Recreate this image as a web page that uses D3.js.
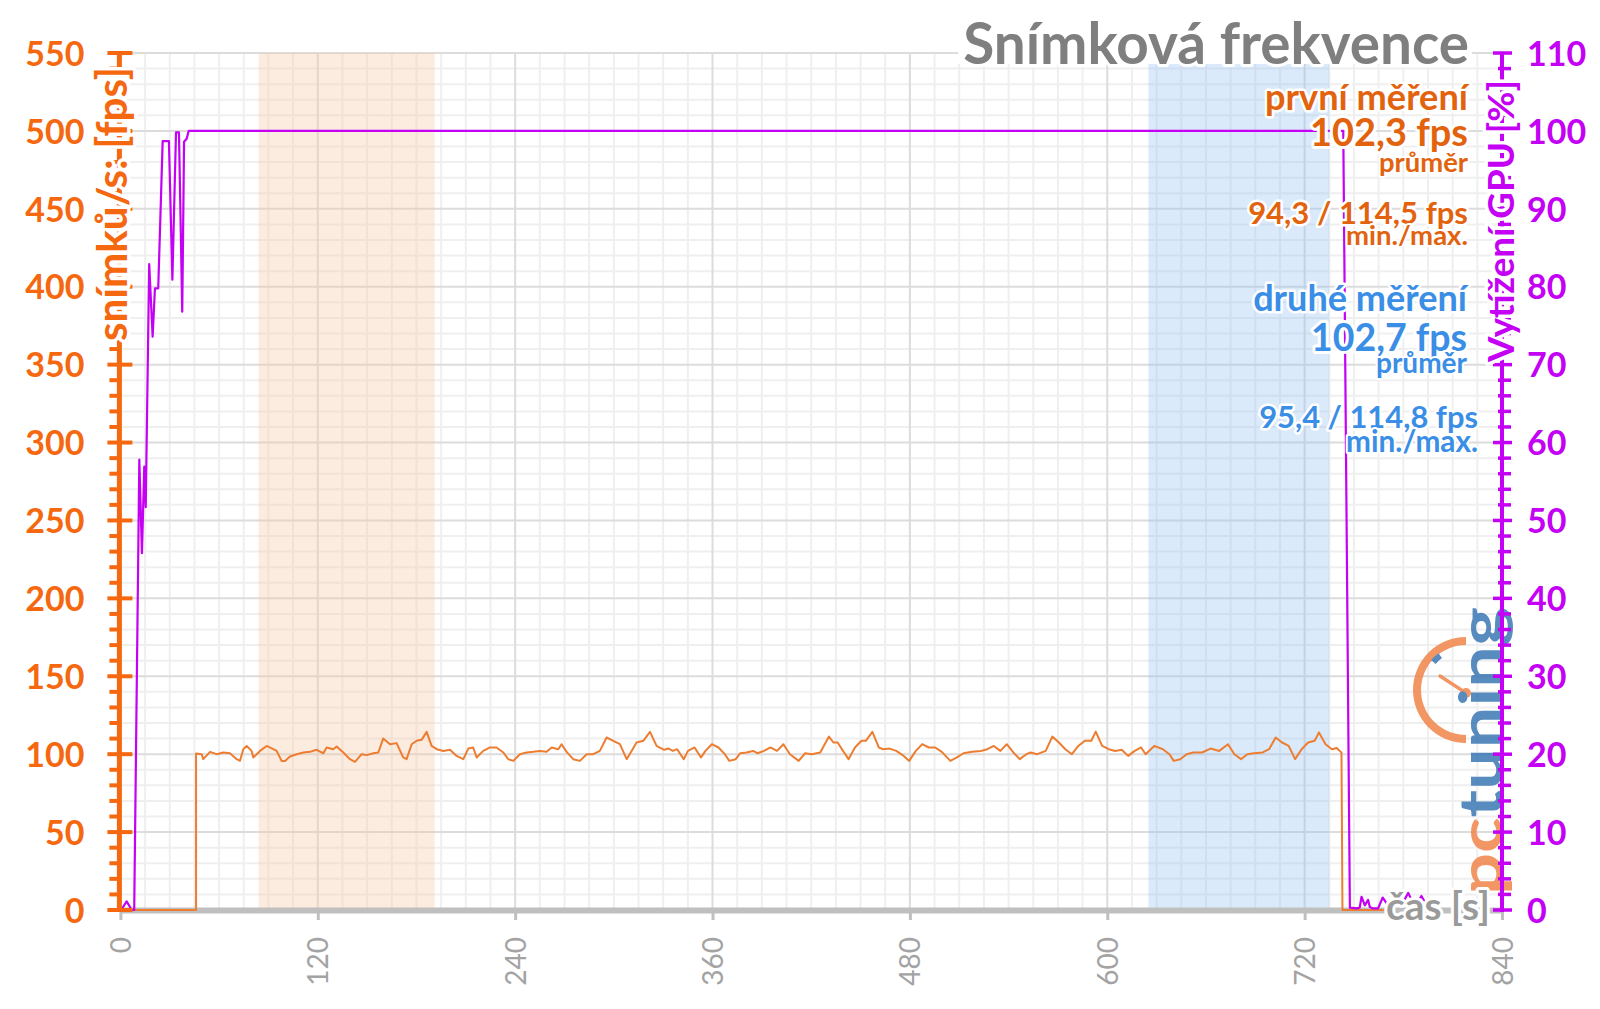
<!DOCTYPE html>
<html>
<head>
<meta charset="utf-8">
<script src="https://cdnjs.cloudflare.com/ajax/libs/d3/7.8.5/d3.min.js"></script>
<style>
  body { margin: 0; background: #fff; }
  svg { display: block; }
</style>
</head>
<body>
<script>
// ---- data ----
const fpsTime = [0, 46, 46, 49.4, 50.4, 54.5, 58.5, 62.6, 66.6, 70.7, 72.7, 74.7, 76.8, 79.8, 80.8, 84.9, 88.9, 93, 95, 98, 100.1, 103.1, 107.2, 111.2, 115.3, 119.3, 123.4, 125.4, 129.4, 131.5, 135.5, 139.6, 142.6, 146.7, 149.7, 153.8, 156.8, 159.8, 163.9, 167.9, 172, 174, 177.1, 180.1, 183.1, 186.2, 189.2, 192.3, 196.3, 200.4, 204.4, 208.5, 211.5, 214.5, 216.6, 220.6, 224.7, 228.7, 232.8, 235.8, 238.9, 242.9, 247, 251, 255.1, 259.1, 262.2, 266.2, 268.2, 271.3, 275.3, 279.4, 283.5, 287.5, 291.5, 295.6, 299.7, 303.7, 307.8, 310.8, 313.8, 317.9, 322, 326, 330.6, 333.3, 335.9, 338.5, 342.5, 345.1, 349.1, 353, 355.7, 359.6, 363.6, 367.5, 370.2, 374.1, 376.8, 380.7, 384.7, 387.3, 391.3, 395.2, 399.2, 403.1, 407.1, 412.4, 416.3, 420.3, 425.5, 430.8, 433.5, 436.1, 438.7, 442.7, 446.6, 450.6, 453.2, 457.2, 461.1, 463.8, 467.7, 471.7, 475.6, 479.6, 483.6, 487.5, 491.5, 495.4, 499.4, 504.6, 508.6, 512.6, 517.8, 523.1, 527.1, 531, 535, 538.9, 542.9, 546.8, 550.8, 553.4, 557.4, 562.6, 566.6, 570.6, 574.5, 578.5, 582.4, 586.4, 590.3, 593, 596.9, 600.9, 604.8, 608.8, 612.7, 616.7, 620.6, 623.3, 628.6, 633.8, 637.8, 640.4, 644.4, 648.3, 652.3, 657.6, 662.8, 668.1, 673.4, 677.3, 681.3, 685.2, 689.2, 694.5, 698.4, 702.4, 706.3, 710.3, 714.2, 718.2, 722.1, 726.1, 728.7, 732.7, 736.6, 739.5, 742.4, 743, 770];
const fpsValue = [0, 0, 100.5, 100, 96.8, 101.5, 100, 101.1, 100.6, 96.8, 95.7, 103.2, 105.3, 102.1, 97.9, 102.1, 105.3, 103.2, 102.1, 95.7, 95.7, 98.5, 100, 101.1, 101.5, 102.8, 100.6, 104.3, 103.2, 104.9, 101.1, 96.8, 95.1, 100, 99.4, 100.6, 101.1, 110.1, 106.4, 107.1, 97.9, 96.8, 106.4, 108.6, 109.2, 114.3, 105.3, 103.2, 102.1, 102.8, 98.9, 96.8, 103.6, 104.3, 97.9, 102.1, 104.3, 104.3, 101.1, 96.8, 95.7, 100, 101.1, 101.5, 102.1, 101.5, 104.3, 103.2, 106.4, 101.5, 96.8, 95.7, 100, 100, 102.1, 110.7, 108.6, 106.4, 96.8, 102.1, 107.5, 108.6, 114.3, 105.3, 102.8, 103.6, 102.1, 103.2, 96.8, 102.1, 104.3, 97.9, 102.1, 106.4, 104.3, 100, 95.7, 96.8, 100.6, 101.1, 102.1, 100.6, 102.1, 104.3, 102.1, 106.4, 100, 95.7, 100.6, 100, 101.1, 111.3, 107.5, 107.5, 103.2, 96.8, 104.3, 108.6, 108.6, 114.3, 104.3, 103.2, 103.6, 102.1, 99.4, 95.7, 102.1, 106.4, 104.3, 104.3, 101.5, 95.7, 97.9, 100.6, 101.5, 102.1, 103.2, 105.3, 102.1, 106.4, 101.1, 96.8, 100, 101.1, 100, 102.1, 111.3, 107.5, 103.2, 100, 105.3, 108.6, 108.6, 114.5, 105.3, 103.2, 102.1, 102.8, 98.9, 102.1, 104.3, 100, 105.3, 103.2, 100, 95.7, 96.8, 100, 101.1, 101.1, 103.6, 102.1, 106.4, 100, 96.8, 100, 100.6, 101.1, 103.2, 110.7, 107.5, 105.3, 96.8, 103.2, 107.5, 108.6, 114, 106.4, 103.2, 104, 101, 0, 0];

const gpuTime = [0, 0.5, 3.8, 6.9, 8.4, 11.5, 13.1, 14.5, 15.4, 17.5, 19.6, 21, 23, 25.7, 29.5, 31.6, 33.8, 35.6, 37.6, 38.7, 40.3, 41.5, 743.5, 747.5, 751.5, 753.5, 754.6, 756.6, 758.6, 759.6, 761.6, 764.6, 767.5, 771, 775, 779, 783, 787, 791, 795, 799];
const gpuLoad = [0, 0, 1.1, 0, 0, 57.8, 45.8, 56.9, 51.7, 82.9, 73.6, 79.8, 79.8, 98.7, 98.7, 80.9, 99.8, 99.8, 76.8, 98.6, 99, 100, 100, 0.3, 0.2, 0.3, 1.7, 0.6, 1.3, 0.4, 0.2, 0.2, 1.6, 0.5, 2.0, 0.6, 2.2, 0.4, 1.8, 0.3, 0];

const firstRun = [84, 191];
const secondRun = [625, 735];

const xTicks = [0, 120, 240, 360, 480, 600, 720, 840];
const fpsTicks = [0, 50, 100, 150, 200, 250, 300, 350, 400, 450, 500, 550];
const gpuTicks = [0, 10, 20, 30, 40, 50, 60, 70, 80, 90, 100, 110];

const title = "Snímková frekvence";
const firstRunText = ["první měření", "102,3 fps", "průměr", "94,3 / 114,5 fps", "min./max."];
const secondRunText = ["druhé měření", "102,7 fps", "průměr", "95,4 / 114,8 fps", "min./max."];
const yTitle = "snímků/s: [fps]";
const y2Title = "Vytížení GPU [%]";
const xTitle = "čas [s]";

// ---- drawing ----
const FONT = "Lato, 'Open Sans', sans-serif";
const ORANGE = "#f5680f";
const ORANGE_TXT = "#e2620e";
const BLUE_TXT = "#3a8ee6";
const PURPLE = "#c400f5";
const LINE_ORANGE = "#ed7d31";

const w = 1600, h = 1009;
const x = d3.scaleLinear().domain([0, 840]).range([120.4, 1502]);
const y = d3.scaleLinear().domain([0, 550]).range([910, 53]);
const y2 = d3.scaleLinear().domain([0, 110]).range([910, 53]);

const svg = d3.select("body").append("svg").attr("width", w).attr("height", h);

function fit(sel, target) {
  const len = sel.node().getComputedTextLength();
  const fs = parseFloat(sel.attr("font-size"));
  sel.attr("font-size", fs * target / len);
  return sel;
}
function halo(sel, sw) {
  return sel.attr("stroke", "#fff").attr("stroke-width", sw)
    .attr("stroke-linejoin", "round").attr("paint-order", "stroke");
}

// grid
const grid = svg.append("g");
const minorX = d3.range(0, 841, 15).filter(d => d % 120 !== 0);
const minorY = d3.range(0, 551, 10).filter(d => d % 50 !== 0);
grid.selectAll(".mx").data(minorX).enter().append("line")
  .attr("x1", d => x(d)).attr("x2", d => x(d)).attr("y1", y(550)).attr("y2", y(0))
  .attr("stroke", "#efefef").attr("stroke-width", 2);
grid.selectAll(".my").data(minorY).enter().append("line")
  .attr("x1", x(0)).attr("x2", x(840)).attr("y1", d => y(d)).attr("y2", d => y(d))
  .attr("stroke", "#efefef").attr("stroke-width", 2);
grid.selectAll(".Mx").data(xTicks.slice(1)).enter().append("line")
  .attr("x1", d => x(d)).attr("x2", d => x(d)).attr("y1", y(550)).attr("y2", y(0))
  .attr("stroke", "#dcdcdc").attr("stroke-width", 2);
grid.selectAll(".My").data(fpsTicks.slice(1)).enter().append("line")
  .attr("x1", x(0)).attr("x2", x(840)).attr("y1", d => y(d)).attr("y2", d => y(d))
  .attr("stroke", "#dcdcdc").attr("stroke-width", 2);

// measurement bands
svg.append("rect")
  .attr("x", x(firstRun[0])).attr("width", x(firstRun[1]) - x(firstRun[0]))
  .attr("y", y(550)).attr("height", y(0) - y(550))
  .attr("fill", "rgb(248,200,165)").attr("opacity", 0.36);
svg.append("rect")
  .attr("x", x(secondRun[0])).attr("width", x(secondRun[1]) - x(secondRun[0]))
  .attr("y", y(550)).attr("height", y(0) - y(550))
  .attr("fill", "rgb(150,192,242)").attr("opacity", 0.34);

// x axis
const gx = svg.append("g").attr("transform", "translate(0,910)")
  .call(d3.axisBottom(x).tickValues(xTicks).tickSize(10).tickSizeOuter(0).tickFormat(d3.format("d")));
gx.select(".domain").attr("stroke", "#bfbfbf").attr("stroke-width", 6);
gx.selectAll(".tick line").attr("stroke", "#bfbfbf").attr("stroke-width", 3);
gx.selectAll(".tick text")
  .attr("transform", "rotate(-90)").attr("text-anchor", "end")
  .attr("x", -27).attr("y", 0).attr("dy", "0.36em")
  .attr("fill", "#a3a3a3").attr("font-size", 28).attr("font-family", FONT);

// data lines
const fpsLine = d3.line().x(d => x(d[0])).y(d => y(d[1]));
const gpuLine = d3.line().x(d => x(d[0])).y(d => y2(d[1]));
svg.append("path").datum(d3.zip(fpsTime, fpsValue))
  .attr("d", fpsLine).attr("fill", "none")
  .attr("stroke", LINE_ORANGE).attr("stroke-width", 2).attr("stroke-linejoin", "round");
svg.append("path").datum(d3.zip(gpuTime, gpuLoad))
  .attr("d", gpuLine).attr("fill", "none")
  .attr("stroke", PURPLE).attr("stroke-width", 2.2).attr("stroke-linejoin", "round");

// logo watermark
const logo = svg.append("g").attr("opacity", 0.85);
const cx = 1466, cy = 690;
logo.append("path").attr("transform", `translate(${cx},${cy})`)
  .attr("d", d3.arc()({innerRadius: 45, outerRadius: 53, startAngle: Math.PI, endAngle: 2 * Math.PI}))
  .attr("fill", "#f0854a");
logo.append("path").attr("transform", `translate(${cx},${cy})`)
  .attr("d", d3.arc()({innerRadius: 40, outerRadius: 46, startAngle: 5.42, endAngle: 5.64}))
  .attr("fill", "#3b78b5");
logo.append("line").attr("x1", 1440).attr("y1", 676).attr("x2", cx).attr("y2", cy + 3)
  .attr("stroke", "#f0854a").attr("stroke-width", 3.5).attr("stroke-linecap", "round");
logo.append("circle").attr("cx", cx).attr("cy", cy + 3).attr("r", 5).attr("fill", "#f0854a");
const logoText = logo.append("text")
  .attr("transform", "translate(1502,895) rotate(-90)")
  .attr("font-family", FONT).attr("font-size", 60).attr("font-weight", 700)
  .attr("textLength", 288).attr("lengthAdjust", "spacingAndGlyphs");
logoText.append("tspan").attr("fill", "#f0854a").text("pc");
logoText.append("tspan").attr("fill", "#3b78b5").text("tuning");

// left axis
const x0 = x(0) - 1;
svg.append("line").attr("x1", x0).attr("x2", x0).attr("y1", y(0) + 2).attr("y2", y(550))
  .attr("stroke", ORANGE).attr("stroke-width", 5);
const leftMinor = d3.range(0, 551, 10).filter(d => d % 50 !== 0);
svg.append("g").selectAll("line").data(leftMinor).enter().append("line")
  .attr("x1", x0 - 10).attr("x2", x0).attr("y1", d => y(d)).attr("y2", d => y(d))
  .attr("stroke", ORANGE).attr("stroke-width", 4);
svg.append("g").selectAll("line").data(fpsTicks).enter().append("line")
  .attr("x1", x0 - 12).attr("x2", x0 + 13).attr("y1", d => y(d)).attr("y2", d => y(d))
  .attr("stroke", ORANGE).attr("stroke-width", 4);
const gl = svg.append("g").attr("transform", `translate(${x0},0)`)
  .call(d3.axisLeft(y).tickValues(fpsTicks).tickSize(0).tickPadding(35));
gl.select(".domain").remove();
gl.selectAll(".tick text").attr("fill", ORANGE).attr("font-size", 34)
  .attr("font-weight", 700).attr("font-family", FONT).attr("dy", "0.36em");

// right axis
const x1 = x(840);
svg.append("line").attr("x1", x1).attr("x2", x1).attr("y1", y2(0) + 2).attr("y2", y2(110))
  .attr("stroke", PURPLE).attr("stroke-width", 4);
const rightMinor = d3.range(0, 111, 2).filter(d => d % 10 !== 0);
svg.append("g").selectAll("line").data(rightMinor).enter().append("line")
  .attr("x1", x1 - 4).attr("x2", x1 + 9).attr("y1", d => y2(d)).attr("y2", d => y2(d))
  .attr("stroke", PURPLE).attr("stroke-width", 3.5);
svg.append("g").selectAll("line").data(gpuTicks).enter().append("line")
  .attr("x1", x1 - 9).attr("x2", x1 + 10).attr("y1", d => y2(d)).attr("y2", d => y2(d))
  .attr("stroke", PURPLE).attr("stroke-width", 3.5);
const gr = svg.append("g").attr("transform", `translate(${x1},0)`)
  .call(d3.axisRight(y2).tickValues(gpuTicks).tickSize(0).tickPadding(25));
gr.select(".domain").remove();
gr.selectAll(".tick text").attr("fill", PURPLE).attr("font-size", 34)
  .attr("font-weight", 700).attr("font-family", FONT).attr("dy", "0.36em");

// axis titles
fit(halo(svg.append("text")
  .attr("transform", "translate(127,204) rotate(-90)").attr("text-anchor", "middle")
  .attr("font-family", FONT).attr("font-weight", 700).attr("font-size", 34)
  .attr("fill", ORANGE).text(yTitle), 7), 274);
fit(halo(svg.append("text")
  .attr("transform", "translate(1514,221) rotate(-90)").attr("text-anchor", "middle")
  .attr("font-family", FONT).attr("font-weight", 700).attr("font-size", 34)
  .attr("fill", PURPLE).text(y2Title), 7), 282);
fit(halo(svg.append("text")
  .attr("x", 1386).attr("y", 920)
  .attr("font-family", FONT).attr("font-weight", 700).attr("font-size", 34)
  .attr("fill", "#9a9a9a").text(xTitle), 6), 104);

// title (white backing hides the plot top behind it)
svg.append("rect").attr("x", 958).attr("y", 50).attr("width", 514).attr("height", 14)
  .attr("fill", "#fff");
fit(halo(svg.append("text")
  .attr("x", 1469).attr("y", 64).attr("text-anchor", "end")
  .attr("font-family", FONT).attr("font-weight", 700).attr("font-size", 56)
  .attr("fill", "#7f7f7f").text(title), 6), 506);

// legend blocks
const legendLayout = [
  {base: 110, width: 203, size: 34, right: 1468, halo: 5},
  {base: 146, width: 158, size: 42, right: 1468, halo: 6},
  {base: 172, width: 89, size: 26, right: 1468, halo: 4},
  {base: 224, width: 220, size: 32, right: 1468, halo: 5},
  {base: 245, width: 122, size: 26, right: 1468, halo: 4}
];
const legendLayout2 = [
  {base: 311, width: 214, size: 34, right: 1467, halo: 5},
  {base: 351, width: 156, size: 42, right: 1467, halo: 6},
  {base: 373, width: 91, size: 26, right: 1467, halo: 4},
  {base: 428, width: 219, size: 32, right: 1478, halo: 5},
  {base: 452, width: 132, size: 26, right: 1478, halo: 4}
];
function legend(texts, layout, color) {
  texts.forEach((t, i) => {
    const L = layout[i];
    fit(halo(svg.append("text")
      .attr("x", L.right).attr("y", L.base).attr("text-anchor", "end")
      .attr("font-family", FONT).attr("font-weight", 700).attr("font-size", L.size)
      .attr("fill", color).text(t), L.halo), L.width);
  });
}
legend(firstRunText, legendLayout, ORANGE_TXT);
legend(secondRunText, legendLayout2, BLUE_TXT);
</script>
</body>
</html>
